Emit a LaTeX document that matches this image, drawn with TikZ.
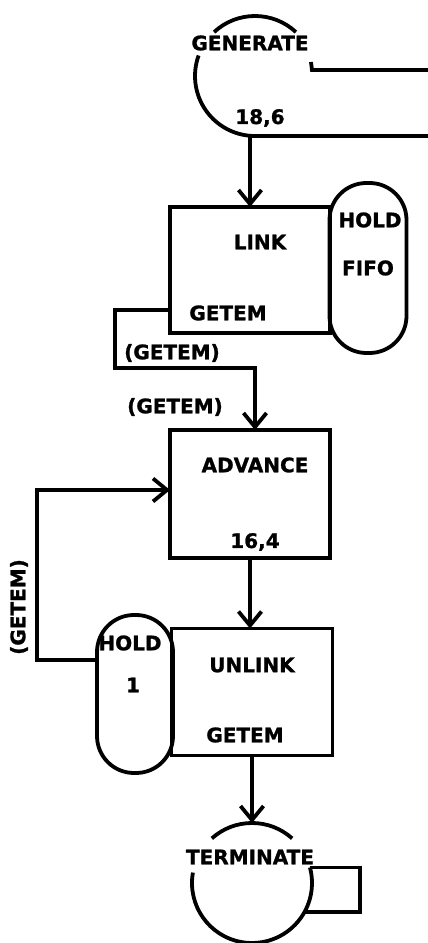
\documentclass[tikz,border=0pt]{standalone}
\usepackage{fontspec}
\setmainfont{DejaVu Sans}
\newfontfamily\heavyfont[FakeBold=1.2]{DejaVu Sans Bold}
\usetikzlibrary{arrows.meta,positioning,calc}
\tikzset{block/.style={draw,rectangle,minimum width=160pt,minimum height=126pt,outer sep=0pt}}
\tikzset{hold/.style={draw,rectangle,rounded corners=37pt,minimum width=77pt,outer sep=0pt}}
\tikzset{ring/.style={circle,minimum size=120pt,inner sep=0pt,outer sep=0pt}}
\tikzset{txt/.style={font=\fontsize{20}{20}\heavyfont,inner sep=0pt}}

\begin{document}
\begin{tikzpicture}[x=1pt, y=1pt, line width=3.8pt, >={Straight Barb[length=14pt,width=23pt]}]
\useasboundingbox (0,0) rectangle (428,943);
% generate block
\node[ring] (gen) at (255,867) {};
\draw (gen.47) arc[start angle=47, end angle=133, radius=60pt];
\draw (gen.160) arc[start angle=160, end angle=270, radius=60pt] -- (428,807);
\coordinate (genout) at (312,873);
\draw ($(genout)+(-1,8)$) -- (genout) -- (428,873);
\node[txt] (gentxt) at (250,900) {GENERATE};
\node[txt] (genarg) at (260,825) {18,6};
% link block
\node[hold, minimum height=170pt] (fifo) at (368,675) {};
\node[block] (link) at (250,673) {};
\node[txt] (linktxt) at (260,701) {LINK};
\node[txt] (linkarg) at (228,630) {GETEM};
\node[txt] (fifotxt) at (370,723) {HOLD};
\node[txt] (fifoarg) at (368,675) {FIFO};
% advance block
\node[block, minimum height=128pt] (adv) at (250,449) {};
\node[txt] (advtxt) at (255,478) {ADVANCE};
\node[txt] (advarg) at (255,401) {16,4};
% unlink block
\node[hold, minimum width=76pt, minimum height=158pt] (hold) at (135,249) {};
\node[block, minimum width=161pt, minimum height=127pt] (unlink) at (252,251) {};
\node[txt] (unlinktxt) at (252,278) {UNLINK};
\node[txt] (unlinkarg) at (245,208) {GETEM};
\node[txt] (holdtxt) at (130,300) {HOLD};
\node[txt] (holdarg) at (133,258) {1};
% terminate block
\node[ring] (term) at (252,60) {};
\draw (term.48) arc[start angle=48, end angle=132, radius=60pt];
\draw (term.170) arc[start angle=170, end angle=375, radius=60pt];
\draw (term.15) -- ++(50,0) |- (term.331);
\node[txt] (termtxt) at (250,86) {TERMINATE};
% connectors
\coordinate (c1) at (115,633);
\coordinate (c2) at (115,575);
\coordinate (c3) at (255,575);
\coordinate (c4) at (37,283);
\coordinate (c5) at (37,453);
\path[->] (gen.270 -| link.north) edge (link.north)
  (adv.south) edge (adv.south |- unlink.north)
  (unlink.south -| term.north) edge (term.north);
\draw[->] (link.west |- c1) -- (c1) -- (c2) -- (c3) -- (c3 |- adv.north);
\draw[->] (hold.west |- c4) -- (c4) -- (c5) -- (c5 -| adv.west);
\node[txt] (lbl1) at (172,590) {(GETEM)};
\node[txt] (lbl2) at (175,536) {(GETEM)};
\node[txt, rotate=90] (lbl3) at (19,336) {(GETEM)};
\end{tikzpicture}
\end{document}
